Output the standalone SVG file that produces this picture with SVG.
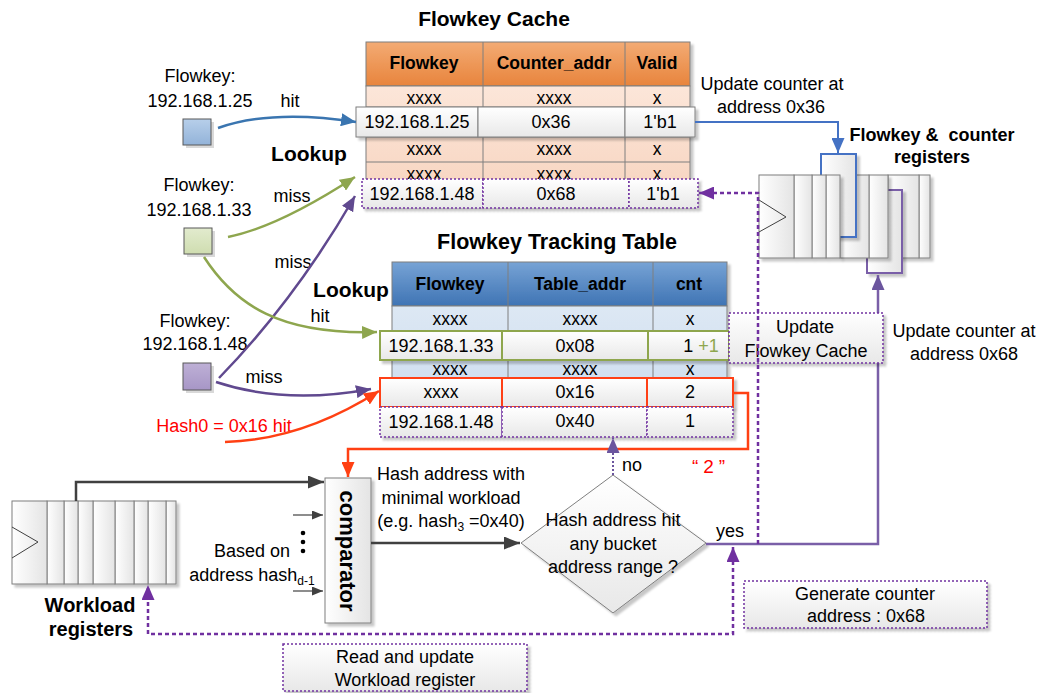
<svg xmlns="http://www.w3.org/2000/svg" width="1043" height="693" viewBox="0 0 1043 693">
<defs>
<style>
text{font-family:'Liberation Sans',Arial,sans-serif;font-size:18px;fill:#000;text-anchor:middle}
.b{font-weight:bold}
.h{font-weight:bold;font-size:17.5px}
.c{font-size:17.5px}
.ln{stroke:#7F7F7F;stroke-width:1;fill:none}
.slab{fill:url(#gSlab);stroke:#7F7F7F;stroke-width:1}
.dot{fill:url(#gWhite);stroke:#7030A0;stroke-width:1.5;stroke-dasharray:2 2}
.hl{fill:url(#gWhite);stroke:#7F7F7F;stroke-width:1}
.gr{fill:url(#gWhite);stroke:#8EA64E;stroke-width:2}
.rd{fill:url(#gWhite);stroke:#FF4013;stroke-width:2}
.box{fill:url(#gWhite);stroke:#7030A0;stroke-width:1.5;stroke-dasharray:2 2}
.sq{stroke:#595959;stroke-width:1}
</style>
<linearGradient id="gOrange" x1="0" y1="0" x2="0" y2="1"><stop offset="0" stop-color="#F3AB74"/><stop offset="1" stop-color="#E8843C"/></linearGradient>
<linearGradient id="gBlue" x1="0" y1="0" x2="0" y2="1"><stop offset="0" stop-color="#77A3D5"/><stop offset="1" stop-color="#3F74B4"/></linearGradient>
<linearGradient id="gWhite" x1="0" y1="0" x2="0" y2="1"><stop offset="0" stop-color="#FFFFFF"/><stop offset="1" stop-color="#E8E8E8"/></linearGradient>
<linearGradient id="gSlab" x1="0" y1="0" x2="1" y2="0"><stop offset="0" stop-color="#FFFFFF"/><stop offset="1" stop-color="#E4E4E4"/></linearGradient>
<linearGradient id="gPeach" x1="0" y1="0" x2="0" y2="1"><stop offset="0" stop-color="#FCE6D9"/><stop offset="1" stop-color="#F7D3BE"/></linearGradient>
<linearGradient id="gLBlue" x1="0" y1="0" x2="0" y2="1"><stop offset="0" stop-color="#DDE8F4"/><stop offset="1" stop-color="#C9DAEE"/></linearGradient>
<linearGradient id="gSqB" x1="0" y1="0" x2="0" y2="1"><stop offset="0" stop-color="#B7CFEA"/><stop offset="1" stop-color="#93B3D9"/></linearGradient>
<linearGradient id="gSqG" x1="0" y1="0" x2="0" y2="1"><stop offset="0" stop-color="#E2EBCE"/><stop offset="1" stop-color="#CFDDB0"/></linearGradient>
<linearGradient id="gSqP" x1="0" y1="0" x2="0" y2="1"><stop offset="0" stop-color="#BEB0D6"/><stop offset="1" stop-color="#A796C6"/></linearGradient>
<filter id="sh" x="-10%" y="-10%" width="130%" height="140%"><feDropShadow dx="3" dy="3" stdDeviation="1.2" flood-color="#000" flood-opacity="0.22"/></filter>
<marker id="mBlue" markerUnits="userSpaceOnUse" markerWidth="15" markerHeight="13" refX="15" refY="6.5" orient="auto"><path d="M0,0 L15,6.5 L0,13 z" fill="#3A75B0"/></marker>
<marker id="mGreen" markerUnits="userSpaceOnUse" markerWidth="15" markerHeight="13" refX="15" refY="6.5" orient="auto"><path d="M0,0 L15,6.5 L0,13 z" fill="#8EA64E"/></marker>
<marker id="mPurp" markerUnits="userSpaceOnUse" markerWidth="15" markerHeight="13" refX="15" refY="6.5" orient="auto"><path d="M0,0 L15,6.5 L0,13 z" fill="#60498F"/></marker>
<marker id="mPurp2" markerUnits="userSpaceOnUse" markerWidth="15" markerHeight="13" refX="15" refY="6.5" orient="auto"><path d="M0,0 L15,6.5 L0,13 z" fill="#6B559E"/></marker>
<marker id="mRed" markerUnits="userSpaceOnUse" markerWidth="15" markerHeight="13" refX="15" refY="6.5" orient="auto"><path d="M0,0 L15,6.5 L0,13 z" fill="#FF4013"/></marker>
<marker id="mBlue2" markerUnits="userSpaceOnUse" markerWidth="15" markerHeight="13" refX="15" refY="6.5" orient="auto"><path d="M0,0 L15,6.5 L0,13 z" fill="#4472C4"/></marker>
<marker id="mDash" markerUnits="userSpaceOnUse" markerWidth="15" markerHeight="13" refX="15" refY="6.5" orient="auto-start-reverse"><path d="M0,0 L15,6.5 L0,13 z" fill="#7030A0"/></marker>
<marker id="mDark" markerUnits="userSpaceOnUse" markerWidth="16" markerHeight="13" refX="16" refY="6.5" orient="auto"><path d="M0,0 L16,6.5 L0,13 z" fill="#404040"/></marker>
<marker id="mSmall" markerUnits="userSpaceOnUse" markerWidth="11" markerHeight="9" refX="11" refY="4.5" orient="auto"><path d="M0,0 L11,4.5 L0,9 z" fill="#404040"/></marker>
</defs>
<rect width="1043" height="693" fill="#FFFFFF"/>

<!-- Flowkey Cache -->
<g id="flowkey-cache">
  <text class="b" x="494" y="26" style="font-size:21px">Flowkey Cache</text>
  <g filter="url(#sh)">
    <rect x="366" y="42" width="324" height="44" fill="url(#gOrange)" stroke="#7F7F7F"/>
    <rect x="366" y="86" width="324" height="118" fill="url(#gPeach)" stroke="#7F7F7F"/>
  </g>
  <path class="ln" d="M483 42V204M625 42V204M366 107H690M366 137H690M366 162H690M366 185H690"/>
  <text class="h" x="424" y="69">Flowkey</text>
  <text class="h" x="554" y="69">Counter_addr</text>
  <text class="h" x="657" y="69">Valid</text>
  <text class="c" x="424" y="104">xxxx</text><text class="c" x="554" y="104">xxxx</text><text class="c" x="657" y="104">x</text>
  <text class="c" x="424" y="155">xxxx</text><text class="c" x="554" y="155">xxxx</text><text class="c" x="657" y="155">x</text>
  <text class="c" x="424" y="180">xxxx</text><text class="c" x="554" y="180">xxxx</text><text class="c" x="657" y="180">x</text>
  <g id="cache-row-25">
    <g filter="url(#sh)">
      <rect class="hl" x="356" y="107" width="122" height="30"/>
      <rect class="hl" x="478" y="107" width="147" height="30"/>
      <rect class="hl" x="625" y="107" width="70" height="30"/>
    </g>
    <text x="417" y="128">192.168.1.25</text>
    <text x="551" y="128">0x36</text>
    <text x="660" y="128">1'b1</text>
  </g>
  <g id="cache-row-48">
    <g filter="url(#sh)">
      <rect class="dot" x="362" y="179" width="121" height="29"/>
      <rect class="dot" x="483" y="179" width="146" height="29"/>
      <rect class="dot" x="629" y="179" width="69" height="29"/>
    </g>
    <text x="422" y="200">192.168.1.48</text>
    <text x="556" y="200">0x68</text>
    <text x="663" y="200">1'b1</text>
  </g>
</g>

<!-- Flowkey Tracking Table -->
<g id="tracking-table">
  <text class="b" x="557" y="249" style="font-size:21.5px">Flowkey Tracking Table</text>
  <g filter="url(#sh)">
    <rect x="392" y="262" width="335" height="44" fill="url(#gBlue)" stroke="#7F7F7F"/>
    <rect x="392" y="306" width="335" height="122" fill="url(#gLBlue)" stroke="#7F7F7F"/>
  </g>
  <path class="ln" d="M508 262V428M653 262V428M392 331H727M392 360H727M392 378H727"/>
  <text class="h" x="450" y="290">Flowkey</text>
  <text class="h" x="580" y="290">Table_addr</text>
  <text class="h" x="689" y="290">cnt</text>
  <text class="c" x="450" y="325">xxxx</text><text class="c" x="580" y="325">xxxx</text><text class="c" x="690" y="325">x</text>
  <text class="c" x="450" y="375">xxxx</text><text class="c" x="580" y="375">xxxx</text><text class="c" x="690" y="375">x</text>
  <g id="track-row-33">
    <g filter="url(#sh)">
      <rect class="gr" x="380" y="331" width="122" height="29"/>
      <rect class="gr" x="502" y="331" width="146" height="29"/>
      <rect class="gr" x="648" y="331" width="81" height="29"/>
    </g>
    <text x="441" y="352">192.168.1.33</text>
    <text x="575" y="352">0x08</text>
    <text x="701" y="352">1 <tspan fill="#8EA64E">+1</tspan></text>
  </g>
  <g id="track-row-16">
    <g filter="url(#sh)">
      <rect class="rd" x="380" y="378" width="122" height="29"/>
      <rect class="rd" x="502" y="378" width="145" height="29"/>
      <rect class="rd" x="647" y="378" width="86" height="29"/>
    </g>
    <text class="c" x="441" y="398">xxxx</text>
    <text x="575" y="398">0x16</text>
    <text x="690" y="398">2</text>
  </g>
  <g id="track-row-48">
    <g filter="url(#sh)">
      <rect class="dot" x="380" y="407" width="122" height="30"/>
      <rect class="dot" x="502" y="407" width="145" height="30"/>
      <rect class="dot" x="647" y="407" width="86" height="30"/>
    </g>
    <text x="441" y="428">192.168.1.48</text>
    <text x="575" y="427">0x40</text>
    <text x="690" y="427">1</text>
  </g>
</g>

<!-- Flowkeys on the left -->
<g id="flowkey-25">
  <text x="200" y="82">Flowkey:</text>
  <text x="200" y="107">192.168.1.25</text>
  <rect x="186" y="122" width="28" height="26" fill="#D9D9D9"/>
  <rect class="sq" x="183" y="119" width="28" height="26" fill="url(#gSqB)"/>
</g>
<g id="flowkey-33">
  <text x="199" y="191">Flowkey:</text>
  <text x="199" y="216">192.168.1.33</text>
  <rect x="187" y="231" width="28" height="26" fill="#D9D9D9"/>
  <rect class="sq" x="184" y="228" width="28" height="26" fill="url(#gSqG)"/>
</g>
<g id="flowkey-48">
  <text x="195" y="327">Flowkey:</text>
  <text x="195" y="350">192.168.1.48</text>
  <rect x="186" y="366" width="28" height="27" fill="#D9D9D9"/>
  <rect class="sq" x="183" y="363" width="28" height="27" fill="url(#gSqP)"/>
</g>
<g id="labels-left">
  <text x="290" y="107">hit</text>
  <text class="b" x="309" y="161" style="font-size:21px">Lookup</text>
  <text x="292" y="202">miss</text>
  <text x="293" y="268">miss</text>
  <text class="b" x="351" y="297" style="font-size:21px">Lookup</text>
  <text x="320" y="322">hit</text>
  <text x="264" y="383">miss</text>
  <text x="224" y="432" style="fill:#FF0000">Hash0 = 0x16 hit</text>
</g>

<!-- Flowkey & counter registers -->
<g id="counter-registers">
  <text class="b" x="932" y="141">Flowkey &amp;&#160; counter</text>
  <text class="b" x="932" y="163">registers</text>
  <g filter="url(#sh)">
    <rect class="slab" x="919" y="175" width="11" height="83"/>
    <rect class="slab" x="888" y="175" width="31" height="83"/>
  </g>
  <rect x="867" y="190" width="35" height="83" fill="url(#gSlab)" stroke="#7A5FA8" stroke-width="2" filter="url(#sh)"/>
  <g filter="url(#sh)">
    <rect class="slab" x="869" y="175" width="19" height="83"/>
    <rect class="slab" x="840" y="175" width="29" height="83"/>
  </g>
  <rect x="821" y="154" width="35" height="83" fill="url(#gSlab)" stroke="#4472C4" stroke-width="2" filter="url(#sh)"/>
  <g filter="url(#sh)">
    <rect class="slab" x="826" y="175" width="14" height="83"/>
    <rect class="slab" x="812" y="175" width="14" height="83"/>
    <rect class="slab" x="794" y="175" width="18" height="83"/>
    <rect class="slab" x="759" y="175" width="35" height="83"/>
  </g>
  <polyline points="759,200 786,217 759,232" fill="none" stroke="#404040" stroke-width="1"/>
</g>

<!-- Workload registers -->
<g id="workload-registers">
  <g filter="url(#sh)">
    <rect class="slab" x="166" y="501" width="10" height="83"/>
    <rect class="slab" x="148" y="501" width="18" height="83"/>
    <rect class="slab" x="134" y="501" width="14" height="83"/>
    <rect class="slab" x="115" y="501" width="19" height="83"/>
    <rect class="slab" x="93" y="501" width="22" height="83"/>
    <rect class="slab" x="78" y="501" width="15" height="83"/>
    <rect class="slab" x="64" y="501" width="14" height="83"/>
    <rect class="slab" x="47" y="501" width="17" height="83"/>
    <rect class="slab" x="12" y="501" width="35" height="83"/>
  </g>
  <polyline points="12,527 38,542 12,558" fill="none" stroke="#404040" stroke-width="1"/>
  <text class="b" x="90" y="612" style="font-size:20px">Workload</text>
  <text class="b" x="91" y="636" style="font-size:20px">registers</text>
</g>

<!-- Comparator -->
<g id="comparator">
  <rect x="325" y="478" width="46" height="145" fill="url(#gSlab)" stroke="#7F7F7F" filter="url(#sh)"/>
  <text class="b" transform="translate(348,551) rotate(90)" x="0" y="8" style="font-size:22px">comparator</text>
</g>
<g id="comparator-inputs">
  <circle cx="303" cy="533" r="2.3" fill="#000"/>
  <circle cx="303" cy="542" r="2.3" fill="#000"/>
  <circle cx="303" cy="551" r="2.3" fill="#000"/>
  <text x="252" y="557">Based on</text>
  <text x="252" y="581">address hash<tspan dy="4" style="font-size:12px">d-1</tspan></text>
</g>

<!-- Decision -->
<g id="decision">
  <polygon points="521,543 613,475 706,543 613,613" fill="url(#gWhite)" stroke="#7F7F7F" filter="url(#sh)"/>
  <text x="613" y="526">Hash address hit</text>
  <text x="613" y="550">any bucket</text>
  <text x="613" y="573">address range ?</text>
</g>
<g id="label-hash-min">
  <text x="451" y="480">Hash address with</text>
  <text x="451" y="504">minimal workload</text>
  <text x="451" y="527">(e.g. hash<tspan dy="4" style="font-size:12px">3</tspan><tspan dy="-4"> =0x40)</tspan></text>
</g>

<g id="connectors-back">
  <path d="M706 544H878V275" fill="none" stroke="#7A5FA8" stroke-width="2.5" marker-end="url(#mPurp2)"/>
</g>

<!-- Update Flowkey Cache box -->
<g id="update-cache">
  <rect class="box" x="729" y="313" width="154" height="50" filter="url(#sh)"/>
  <text x="805" y="333">Update</text>
  <text x="806" y="357">Flowkey Cache</text>
</g>
<g id="generate-counter">
  <rect class="box" x="744" y="581" width="243" height="47" filter="url(#sh)"/>
  <text x="865" y="600">Generate counter</text>
  <text x="866" y="622">address : 0x68</text>
</g>
<g id="read-update">
  <rect class="box" x="283" y="644" width="244" height="47" filter="url(#sh)"/>
  <text x="405" y="663">Read and update</text>
  <text x="405" y="686">Workload register</text>
</g>

<g id="connector-labels">
  <text x="772" y="90">Update counter at</text>
  <text x="771" y="113">address 0x36</text>
  <text x="964" y="337">Update counter at</text>
  <text x="964" y="360">address 0x68</text>
  <text x="632" y="471">no</text>
  <text x="711" y="473" style="fill:#FF0000;font-size:19px;letter-spacing:5px">“2”</text>
  <text x="730" y="537">yes</text>
</g>

<!-- Connectors -->
<g id="connectors" fill="none">
  <path d="M218 128Q272 109 356 122" stroke="#3A75B0" stroke-width="2.5" marker-end="url(#mBlue)"/>
  <path d="M228 237Q278 227 355 177" stroke="#8EA64E" stroke-width="2.5" marker-end="url(#mGreen)"/>
  <path d="M219 378Q295 300 355 196" stroke="#60498F" stroke-width="2.5" marker-end="url(#mPurp)"/>
  <path d="M204 257C235 305 280 335 377 332" stroke="#8EA64E" stroke-width="2.5" marker-end="url(#mGreen)"/>
  <path d="M216 382Q285 405 371 389" stroke="#60498F" stroke-width="2.5" marker-end="url(#mPurp)"/>
  <path d="M225 442Q302 440 379 391" stroke="#FF4013" stroke-width="2.5" marker-end="url(#mRed)"/>
  <path d="M695 122H838V153" stroke="#4472C4" stroke-width="2" marker-end="url(#mBlue2)"/>
  <path d="M733 393H748V449H348V477" stroke="#FF4013" stroke-width="2.5" marker-end="url(#mRed)"/>
  <path d="M613 475V438" stroke="#6B559E" stroke-width="2" stroke-dasharray="2 2" marker-end="url(#mPurp2)"/>
  <path d="M758 544V193H699" stroke="#7030A0" stroke-width="2.5" stroke-dasharray="4 3" marker-end="url(#mDash)"/>
  <path d="M733 547V634H148V585" stroke="#7030A0" stroke-width="2.5" stroke-dasharray="4 3" marker-start="url(#mDash)" marker-end="url(#mDash)"/>
  <path d="M76 501V482H324" stroke="#404040" stroke-width="2.5" marker-end="url(#mDark)"/>
  <path d="M293 515H323" stroke="#404040" stroke-width="1.2" marker-end="url(#mSmall)"/>
  <path d="M293 591H323" stroke="#404040" stroke-width="1.2" marker-end="url(#mSmall)"/>
  <path d="M371 543H520" stroke="#404040" stroke-width="2.5" marker-end="url(#mDark)"/>
</g>
</svg>
